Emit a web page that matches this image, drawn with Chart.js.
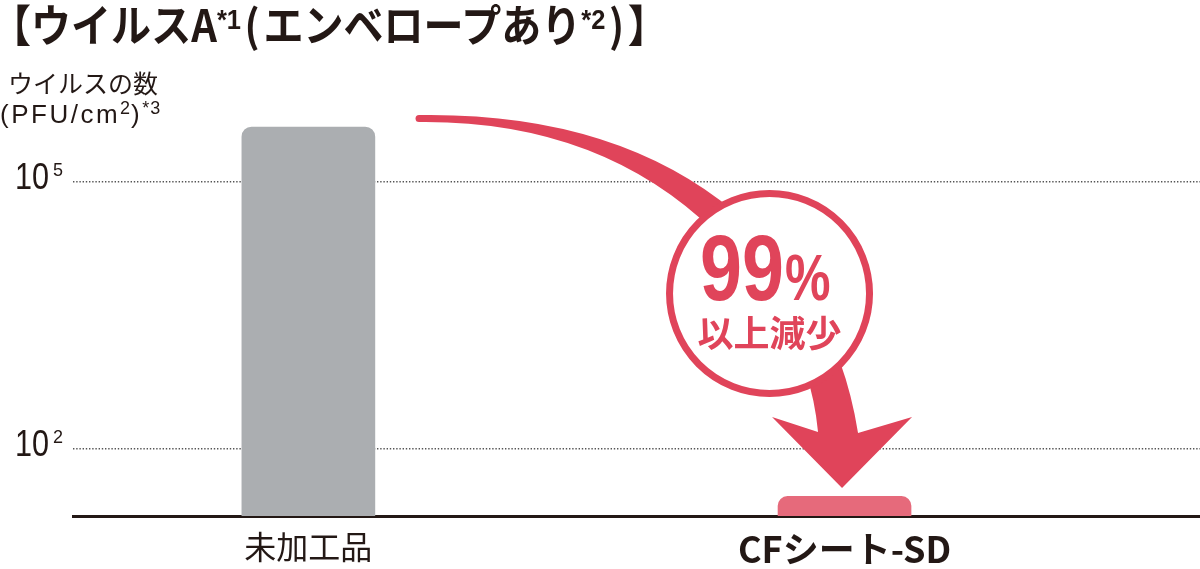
<!DOCTYPE html>
<html lang="ja">
<head>
<meta charset="utf-8">
<script src="https://cdn.jsdelivr.net/npm/chart.js@4/dist/chart.umd.min.js"></script>
<style>
  html, body { margin: 0; padding: 0; background: #fff; }
  #wrap { position: relative; width: 1200px; height: 569px; overflow: hidden; }
  #title {
    position: absolute; left: -9px; top: -9px; white-space: nowrap;
    font: bold 44px "Noto Sans CJK JP", sans-serif; color: #231815;
    transform: scaleX(0.91); transform-origin: left top;
  }
  #title sup { font: bold 28px "Liberation Sans", sans-serif; vertical-align: 13px; line-height: 0; }
  #title .p { margin: 0 4px; }
  .ylab { position: absolute; left: 0; white-space: nowrap; color: #231815; }
  #ylab1 { left: 8px; top: 64px; font: 25px "Noto Sans CJK JP", sans-serif; }
  #ylab2 { top: 99px; font: 26px "Liberation Sans", sans-serif; letter-spacing: 2.5px; }
  #ylab2 sup { font-size: 18px; vertical-align: 9px; line-height: 0; letter-spacing: 1px; }
  canvas { position: absolute; left: 0; top: 0; }
</style>
</head>
<body>
<div id="wrap">
  <canvas id="chart" width="1200" height="569"></canvas>
  <div id="title">【ウイルスA<sup>*1</sup><span class="p">(</span>エンベロープあり<sup>*2</sup><span class="p">)</span>】</div>
  <div class="ylab" id="ylab1">ウイルスの数</div>
  <div class="ylab" id="ylab2">(PFU/cm<sup>2</sup>)<sup>*3</sup></div>
</div>
<script>
// data (log scale, PFU/cm2)
const categories = ['未加工品', 'CFシート-SD'];
const virusCounts = [410000, 29];
const yTicks = [100, 100000];
const reductionLabel = '99';
const reductionUnit = '%';
const reductionText = '以上減少';

const barColors = ['#abaeb1', '#e66a7b'];
const red = '#e0445a';
const ink = '#231815';

// arrow + circle callout, placed relative to the CF bar
const calloutPlugin = {
  id: 'callout',
  afterDatasetsDraw(chart) {
    const { ctx, chartArea, scales } = chart;
    const bx = scales.x.getPixelForValue(1);
    const by = chartArea.bottom;
    const P = (dx, dy) => [bx + dx, by + dy];
    ctx.save();
    ctx.fillStyle = red;

    // curved tapered arrow body
    ctx.beginPath();
    ctx.moveTo(...P(-425.5, -401));
    ctx.quadraticCurveTo(...P(-229.5, -404), ...P(-109.5, -304));
    ctx.lineTo(...P(-129.5, -284));
    ctx.quadraticCurveTo(...P(-244.5, -396), ...P(-425.5, -394));
    ctx.closePath();
    ctx.fill();
    ctx.beginPath();
    ctx.arc(...P(-425.5, -397.5), 3.5, 0, Math.PI * 2);
    ctx.fill();

    // lower shaft and head
    ctx.beginPath();
    ctx.moveTo(...P(-39.5, -146));
    ctx.quadraticCurveTo(...P(-29.5, -116), ...P(-26.5, -84));
    ctx.lineTo(...P(-72.5, -99));
    ctx.lineTo(...P(-2.5, -28));
    ctx.lineTo(...P(67.5, -99));
    ctx.lineTo(...P(13.5, -83));
    ctx.quadraticCurveTo(...P(7.5, -121), ...P(-4.5, -154));
    ctx.closePath();
    ctx.fill();

    // circle
    const [cx, cy] = P(-75, -222.5);
    ctx.beginPath();
    ctx.arc(cx, cy, 100, 0, Math.PI * 2);
    ctx.fillStyle = '#fff';
    ctx.fill();
    ctx.lineWidth = 7;
    ctx.strokeStyle = red;
    ctx.stroke();

    // texts
    ctx.fillStyle = red;
    ctx.textBaseline = 'alphabetic';
    ctx.textAlign = 'left';
    ctx.save();
    ctx.translate(cx - 69.5, cy + 6.5);
    ctx.scale(0.82, 1);
    ctx.font = 'bold 92px "Liberation Sans", sans-serif';
    ctx.fillText(reductionLabel, 0, 0);
    ctx.restore();
    ctx.save();
    ctx.translate(cx + 15.5, cy + 6.5);
    ctx.scale(0.8, 1);
    ctx.font = 'bold 64px "Liberation Sans", sans-serif';
    ctx.fillText(reductionUnit, 0, 0);
    ctx.restore();
    ctx.font = 'bold 36px "Noto Sans CJK JP", sans-serif';
    ctx.textAlign = 'center';
    ctx.textBaseline = 'middle';
    ctx.fillText(reductionText, cx, cy + 40);
    ctx.restore();
  },
  afterDraw(chart) {
    // y tick labels as 10 with a raised exponent
    const { ctx, scales } = chart;
    ctx.save();
    ctx.fillStyle = ink;
    ctx.textBaseline = 'alphabetic';
    yTicks.forEach(v => {
      const py = scales.y.getPixelForValue(v);
      ctx.save();
      ctx.translate(15, py + 7.5);
      ctx.scale(0.85, 1);
      ctx.font = '36px "Liberation Sans", sans-serif';
      ctx.fillText('10', 0, 0);
      ctx.restore();
      ctx.font = '18px "Liberation Sans", sans-serif';
      ctx.fillText(String(Math.round(Math.log10(v))), 53, py - 6);
    });
    ctx.restore();
  }
};

const xMin = -0.439;
const xMax = 1.663;

new Chart(document.getElementById('chart'), {
  type: 'bar',
  data: {
    datasets: [{
      data: virusCounts.map((v, i) => ({ x: i, y: v })),
      backgroundColor: barColors,
      borderRadius: 10,
      borderSkipped: 'start',
      barThickness: 133
    }]
  },
  options: {
    responsive: false,
    animation: false,
    layout: { padding: { top: 100, left: 0, right: 0, bottom: 0 } },
    plugins: { legend: { display: false }, tooltip: { enabled: false } },
    scales: {
      x: {
        type: 'linear',
        min: xMin,
        max: xMax,
        offset: false,
        afterBuildTicks: s => { s.ticks = categories.map((c, i) => ({ value: i })); },
        afterFit: s => { s.height = 53; },
        grid: { display: false, drawTicks: false },
        border: { display: true, color: ink, width: 3 },
        ticks: {
          color: ink,
          padding: 15,
          maxRotation: 0,
          autoSkip: false,
          callback: v => categories[v],
          font: c => c.index === 1
            ? { family: '"Noto Sans CJK JP", sans-serif', size: 36, weight: 'bold', lineHeight: 1 }
            : { family: '"Noto Sans CJK JP", sans-serif', size: 32, weight: 'normal', lineHeight: 1 }
        }
      },
      y: {
        type: 'logarithmic',
        min: 17.46,
        max: 824000,
        afterBuildTicks: s => { s.ticks = yTicks.map(v => ({ value: v })); },
        afterFit: s => { s.width = 73; },
        grid: { color: '#555', lineWidth: 1.4, drawTicks: false },
        border: { display: false, dash: [1.4, 1.8] },
        ticks: { display: false }
      }
    }
  },
  plugins: [calloutPlugin]
});
</script>
</body>
</html>
